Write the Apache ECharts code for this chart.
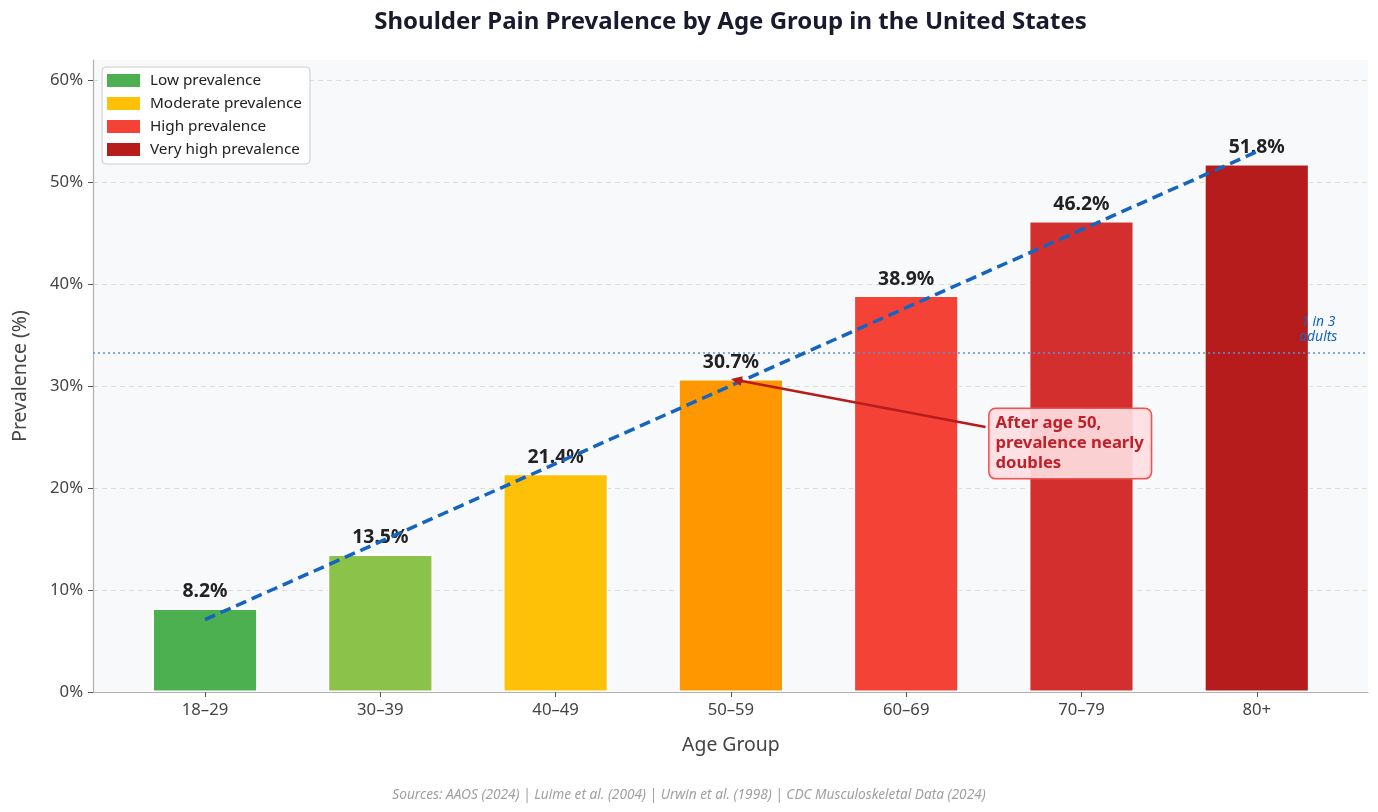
<!DOCTYPE html>
<html>
<head>
<meta charset="utf-8">
<script src="https://cdn.jsdelivr.net/npm/echarts@6/dist/echarts.min.js"></script>
<style>
html,body{margin:0;padding:0;background:#fff;}
#c{width:1378px;height:812px;}
</style>
</head>
<body>
<div id="c"></div>
<script>
const categories = ['18–29','30–39','40–49','50–59','60–69','70–79','80+'];
const prevalence = [8.2, 13.5, 21.4, 30.7, 38.9, 46.2, 51.8];
const barColors = ['#4caf50','#8bc34a','#ffc107','#ff9800','#f44336','#d32f2f','#b71c1c'];
const trendValues = [7.1, 14.75, 22.4, 30.05, 37.7, 45.35, 53.0];
const legendNames = ['Low prevalence','Moderate prevalence','High prevalence','Very high prevalence'];
const legendColors = ['#4caf50','#ffc107','#f44336','#b71c1c'];
const yTicks = [0,10,20,30,40,50,60];
const oneInThree = 33.3;

const FONT = 'Noto Sans';
const Y_MAX = 62, Y_TICK_MAX = 60;
const chart = echarts.init(document.getElementById('c'), null, {renderer:'canvas'});

const legendSeries = legendNames.map((n,i)=>({
  name:n, type:'bar', xAxisIndex:1, yAxisIndex:1, stack:'s',
  data:[], itemStyle:{color:legendColors[i]}
}));

const plotTop = 60, plotBottom = 120;
const tickGridTop = plotTop + (812 - plotTop - plotBottom) * (Y_MAX - Y_TICK_MAX) / Y_MAX;

const option = {
  backgroundColor:'#ffffff',
  animation:false,
  textStyle:{fontFamily:FONT},
  title:[
    {text:'Sources: AAOS (2024) | Luime et al. (2004) | Urwin et al. (1998) | CDC Musculoskeletal Data (2024)',
     left:'center', bottom:5,
     textStyle:{fontFamily:FONT,fontSize:13.7,fontStyle:'italic',fontWeight:'normal',color:'#a0a0a0'}}
  ],
  legend:{
    data:legendNames.map(n=>({name:n,icon:'rect'})),
    orient:'vertical', left:102, top:67,
    backgroundColor:'#ffffff', borderColor:'#cccccc', borderWidth:1, borderRadius:4,
    padding:[6,8,7,5], itemGap:8, itemWidth:33, itemHeight:13,
    textStyle:{fontFamily:FONT,fontSize:15.3,color:'#222',padding:[0,0,0,5]},
    selectedMode:false
  },
  grid:[
    {left:93, right:10, top:plotTop, bottom:plotBottom, show:true, backgroundColor:'#f8f9fb', borderWidth:0},
    {left:117.4, right:33.6, top:plotTop, bottom:plotBottom},
    {left:93, right:10, top:tickGridTop, bottom:plotBottom}
  ],
  xAxis:[
    {type:'value', gridIndex:0, min:0, max:1,
     axisLine:{show:true,onZero:false,lineStyle:{color:'#b0b0b0',width:1.2}},
     axisTick:{show:false}, axisLabel:{show:false}, splitLine:{show:false}},
    {type:'category', gridIndex:1, data:categories,
     axisLine:{show:false},
     axisTick:{show:true,alignWithLabel:true,length:5,lineStyle:{color:'#555'}},
     axisLabel:{fontFamily:FONT,fontSize:16.7,color:'#444',margin:10},
     name:'Age Group', nameLocation:'middle', nameGap:44,
     nameTextStyle:{fontFamily:FONT,fontSize:19.4,color:'#444'}},
    {type:'value', gridIndex:2, min:0, max:1, show:false}
  ],
  yAxis:[
    {type:'value', gridIndex:0, min:0, max:Y_MAX,
     axisLine:{show:true,lineStyle:{color:'#b0b0b0',width:1.2}},
     axisTick:{show:false}, axisLabel:{show:false}, splitLine:{show:false},
     name:'Prevalence (%)', nameLocation:'middle', nameGap:63,
     nameTextStyle:{fontFamily:FONT,fontSize:19.4,color:'#444'}},
    {type:'value', gridIndex:1, min:0, max:Y_MAX, show:false, splitLine:{show:false}},
    {type:'value', gridIndex:2, min:yTicks[0], max:Y_TICK_MAX, interval:10,
     axisLine:{show:false},
     axisTick:{show:true,length:5,lineStyle:{color:'#555'}},
     axisLabel:{fontFamily:FONT,fontSize:16.7,color:'#444',margin:10,formatter:'{value}%'},
     splitLine:{show:true,lineStyle:{color:'#dcdcdc',type:[5,4],width:1}}}
  ],
  series:[
    {type:'line', xAxisIndex:0, yAxisIndex:0, data:[], silent:true,
     markLine:{silent:true, symbol:'none',
       lineStyle:{color:'#5b93d6',type:[2,3],width:1.5},
       label:{show:false},
       data:[{yAxis:oneInThree}]}},
    {name:'Prevalence', type:'bar', xAxisIndex:1, yAxisIndex:1, stack:'s', z:2,
     barWidth:'60%',
     data:prevalence.map((v,i)=>({value:v,itemStyle:{color:barColors[i]}})),
     itemStyle:{borderColor:'#ffffff',borderWidth:1.5},
     label:{show:true,position:'top',distance:7,formatter:p=>p.value.toFixed(1)+'%',
       fontFamily:FONT,fontSize:19.4,fontWeight:'bold',color:'#222'}},
    ...legendSeries,
    {name:'Trend', type:'line', xAxisIndex:1, yAxisIndex:1, z:10,
     data:trendValues, symbol:'none', silent:true,
     lineStyle:{color:'#1565c0',width:3.5,type:[11,6]}}
  ]
};
chart.setOption(option);

// annotations placed in data coordinates
const head = chart.convertToPixel({xAxisIndex:1,yAxisIndex:1},[3, prevalence[3]]);
const tail = chart.convertToPixel({xAxisIndex:0,yAxisIndex:0},[0.700, 26.0]);
const boxTL = chart.convertToPixel({xAxisIndex:0,yAxisIndex:0},[0.702, 27.9]);
const lab = chart.convertToPixel({xAxisIndex:0,yAxisIndex:0},[0.961, oneInThree]);
const titleC = chart.convertToPixel({xAxisIndex:0,yAxisIndex:0},[0.5, 0]);
const ang = Math.atan2(head[1]-tail[1], head[0]-tail[0]);
const ah = 11, aw = 5;
const bx = head[0]-ah*Math.cos(ang), by = head[1]-ah*Math.sin(ang);
const px = -Math.sin(ang), py = Math.cos(ang);

chart.setOption({graphic:[
  {type:'text', z:30, x:titleC[0], y:22,
   style:{text:'Shoulder Pain Prevalence by Age Group in the United States', fill:'#1a1a2e',
     font:'bold 24px "Noto Sans"', align:'center', verticalAlign:'middle'}},
  {type:'line', z:20, shape:{x1:tail[0],y1:tail[1],x2:bx,y2:by},
   style:{stroke:'#b71c1c',lineWidth:2.5}},
  {type:'polygon', z:20, shape:{points:[[head[0],head[1]],[bx+px*aw,by+py*aw],[bx-px*aw,by-py*aw]]},
   style:{fill:'#b71c1c'}},
  {type:'text', z:21, left:boxTL[0], top:boxTL[1],
   style:{text:'After age 50,\nprevalence nearly\ndoubles', fill:'#c0202a',
     font:'bold 16.7px "Noto Sans"', lineHeight:20,
     backgroundColor:'rgba(253,222,226,0.92)', borderColor:'#ef5350', borderWidth:1.5,
     borderRadius:6, padding:[4,7,5,6]}},
  {type:'text', z:21, x:lab[0], y:lab[1]-8,
   style:{text:'1 in 3\nadults', fill:'#1565c0', font:'italic 13.9px "Noto Sans"', lineHeight:15,
     align:'center', verticalAlign:'bottom'}}
]});
</script>
</body>
</html>
